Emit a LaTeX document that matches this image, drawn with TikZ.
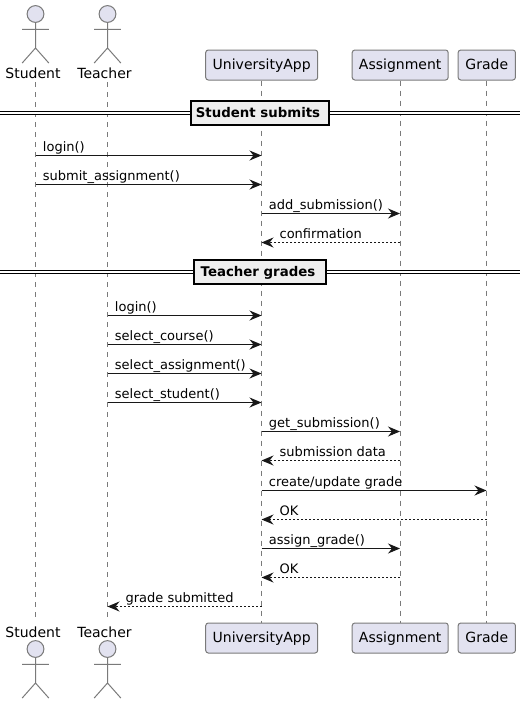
\documentclass[tikz,border=0pt]{standalone}
\usepackage{fontspec}
\setmainfont{DejaVu Sans}
\usetikzlibrary{arrows.meta,positioning}

\definecolor{actorfill}{HTML}{E2E2F0}
\definecolor{framefill}{HTML}{EEEEEE}
\definecolor{inkline}{HTML}{181818}
\definecolor{boxline}{HTML}{7A7A7A}

\tikzset{
    px/.style={x=0.75pt, y=-0.75pt},
    party/.style={draw=boxline, fill=actorfill, rounded corners=2pt, line width=0.75pt, minimum height=22.5pt, inner sep=0pt, text height=9pt, text depth=2pt, font=\fontsize{10.5pt}{12pt}\selectfont},
    actorname/.style={inner sep=0pt, anchor=base, font=\fontsize{10.5pt}{12pt}\selectfont},
    lifeline/.style={draw=boxline, line width=0.6pt, dash pattern=on 3.75pt off 3.75pt},
    msg/.style={draw=inkline, line width=0.75pt, -{Stealth[length=9pt, width=7.5pt, inset=3pt]}},
    reply/.style={msg, dash pattern=on 1.5pt off 1.5pt},
    msglabel/.style={anchor=base west, inner sep=0pt, xshift=5.2pt, yshift=3.3pt, font=\fontsize{9.75pt}{12pt}\selectfont},
    replylabel/.style={msglabel, xshift=8pt},
    divider/.style={draw=black, line width=0.75pt, double=white, double distance=1.2pt},
    framebox/.style={draw=black, fill=framefill, line width=1.5pt, minimum height=17.5pt, inner sep=0pt, text height=7.6pt, text depth=0.4pt, font=\bfseries\fontsize{10pt}{12pt}\selectfont},
    pics/actor/.style={code={
        \draw[draw=boxline, line width=0.75pt, fill=actorfill] (0,0) circle (6.3pt);
        \draw[draw=boxline, line width=0.75pt] (0,8.4) -- (0,34) (-13.3,15.3) -- (13.3,15.3) (-13.3,49) -- (0,34) -- (13.3,49);
    }},
}

\begin{document}
\begin{tikzpicture}[px]
    \useasboundingbox (0,0) rectangle (526,704);

    % lifeline positions and message rows
    \foreach \who/\xpos in {Student/35.5, Teacher/107.5, App/261.5, Assignment/400, Grade/486.5} {
        \foreach \row/\ypos in {1/155.5, 2/184.5, 3/213.5, 4/242.5, 5/315.5, 6/344.5, 7/373.5, 8/402.5, 9/431.5, 10/460.5, 11/490.5, 12/519.5, 13/548.5, 14/577.5, 15/606.5} {
            \coordinate (\who\row) at (\xpos,\ypos);
        }
    }
    \coordinate (StudentTop) at (35.5,82);
    \coordinate (StudentEnd) at (35.5,622);
    \coordinate (TeacherTop) at (107.5,82);
    \coordinate (TeacherEnd) at (107.5,622);

    % participants
    \node[party, minimum width=84pt] (appTop) at (261.7,65) {UniversityApp};
    \node[party, minimum width=72pt] (assignTop) at (400.2,65) {Assignment};
    \node[party, minimum width=43pt] (gradeTop) at (486.8,65) {Grade};
    \node[party, minimum width=84pt] (appEnd) at (261.7,638) {UniversityApp};
    \node[party, minimum width=72pt] (assignEnd) at (400.2,638) {Assignment};
    \node[party, minimum width=43pt] (gradeEnd) at (486.8,638) {Grade};

    \pic at (35.5,14) {actor};
    \pic at (107.5,14) {actor};
    \pic at (35.5,649) {actor};
    \pic at (107.5,649) {actor};
    \node[actorname] (studentName) at (33,78) {Student};
    \node[actorname] (teacherName) at (104.5,78) {Teacher};
    \node[actorname] (studentNameEnd) at (33,637) {Student};
    \node[actorname] (teacherNameEnd) at (104.5,637) {Teacher};

    \draw[lifeline] (StudentTop) -- (StudentEnd);
    \draw[lifeline] (TeacherTop) -- (TeacherEnd);
    \draw[lifeline] (appTop) -- (appEnd);
    \draw[lifeline] (assignTop) -- (assignEnd);
    \draw[lifeline] (gradeTop) -- (gradeEnd);

    % dividers
    \coordinate (divA) at (0,113);
    \coordinate (divB) at (520,113);
    \coordinate (divC) at (0,272);
    \coordinate (divD) at (520,272);
    \node[framebox, minimum width=104pt] (submits) at (260,113) {Student submits\kern3pt};
    \node[framebox, minimum width=99pt] (grades) at (260,272) {Teacher grades\kern3pt};
    \draw[divider] (divA) -- (submits);
    \draw[divider] (submits) -- (divB);
    \draw[divider] (divC) -- (grades);
    \draw[divider] (grades) -- (divD);

    % messages
    \draw[msg] (Student1) -- (App1) node[pos=0, msglabel] (m1) {login()};
    \draw[msg] (Student2) -- (App2) node[pos=0, msglabel] (m2) {submit\_assignment()};
    \draw[msg] (App3) -- (Assignment3) node[pos=0, msglabel] (m3) {add\_submission()};
    \draw[reply] (Assignment4) -- (App4) node[pos=1, replylabel] (m4) {confirmation};
    \draw[msg] (Teacher5) -- (App5) node[pos=0, msglabel] (m5) {login()};
    \draw[msg] (Teacher6) -- (App6) node[pos=0, msglabel] (m6) {select\_course()};
    \draw[msg] (Teacher7) -- (App7) node[pos=0, msglabel] (m7) {select\_assignment()};
    \draw[msg] (Teacher8) -- (App8) node[pos=0, msglabel] (m8) {select\_student()};
    \draw[msg] (App9) -- (Assignment9) node[pos=0, msglabel] (m9) {get\_submission()};
    \draw[reply] (Assignment10) -- (App10) node[pos=1, replylabel] (m10) {submission data};
    \draw[msg] (App11) -- (Grade11) node[pos=0, msglabel] (m11) {create/update grade};
    \draw[reply] (Grade12) -- (App12) node[pos=1, replylabel] (m12) {OK};
    \draw[msg] (App13) -- (Assignment13) node[pos=0, msglabel] (m13) {assign\_grade()};
    \draw[reply] (Assignment14) -- (App14) node[pos=1, replylabel] (m14) {OK};
    \draw[reply] (App15) -- (Teacher15) node[pos=1, replylabel] (m15) {grade submitted};
\end{tikzpicture}
\end{document}
